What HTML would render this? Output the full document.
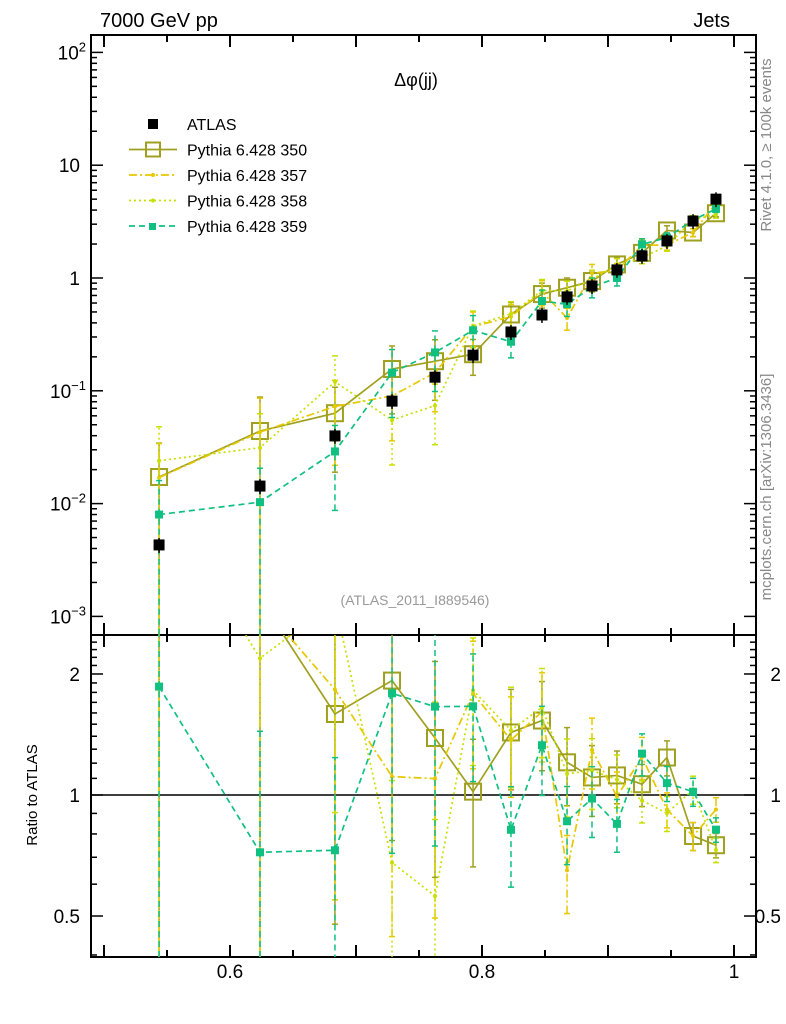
<!DOCTYPE html>
<html><head><meta charset="utf-8"><style>
html,body{margin:0;background:#fff;overflow:hidden;width:786px;height:1024px;}
svg{display:block;font-family:"Liberation Sans",sans-serif;}
</style></head><body>
<svg id="c" width="786" height="1024"></svg>
<script>
const xs=[0.5437,0.6238,0.6833,0.7286,0.7627,0.7929,0.823,0.8476,0.8675,0.8873,0.9071,0.927,0.9468,0.9675,0.9857];
const atlas=[0.0043,0.0143,0.0398,0.081,0.132,0.207,0.332,0.47,0.68,0.85,1.18,1.57,2.13,3.2,5.0];
const py350=[0.0172,0.044,0.0633,0.156,0.183,0.211,0.475,0.72,0.82,0.94,1.32,1.67,2.64,2.53,3.75];
const py357=[0.017,0.043,0.0728,0.090,0.145,0.37,0.455,0.757,0.442,1.10,1.17,1.95,1.96,2.53,4.6];
const py358=[0.024,0.0313,0.12,0.055,0.074,0.377,0.481,0.776,0.768,0.978,1.29,1.52,1.92,3.3,3.65];
const py359=[0.0080,0.0103,0.029,0.145,0.219,0.344,0.272,0.625,0.585,0.833,1.0,1.99,2.28,3.26,4.1];
const relErr=[1.0,1.0,0.7,0.6,0.55,0.35,0.28,0.25,0.22,0.2,0.15,0.12,0.1,0.08,0.07];
const xTicks=[0.6,0.8,1];
const mainTicks=[2,1,0,-1,-2,-3];
const ratioTicks=[2,1,0.5];

const NS="http://www.w3.org/2000/svg";
const svg=document.getElementById('c');
function el(t,a,p){const e=document.createElementNS(NS,t);for(const k in a)e.setAttribute(k,a[k]);(p||svg).appendChild(e);return e;}
const L=91,R=756,T=35,M=635,B=957;
const X=v=>104+(v-0.5)*1260;
const Y=v=>278-Math.log10(v)*112.8;
const YR=v=>795-Math.log10(v)*402;

const defs=el('defs',{});
const c1=el('clipPath',{id:'cm'},defs);el('rect',{x:L,y:T,width:R-L,height:M-T},c1);
const c2=el('clipPath',{id:'cr'},defs);el('rect',{x:L,y:M,width:R-L,height:B-M},c2);

let f=el('rect',{x:L,y:T,width:R-L,height:M-T,fill:'none',stroke:'#000','stroke-width':2});

f=el('rect',{x:L,y:M,width:R-L,height:B-M,fill:'none',stroke:'#000','stroke-width':2});


for(let v=0.5;v<=1.0001;v+=0.05){
  const x=X(v);const maj=Math.abs(v*10-Math.round(v*10))<1e-6;const l=maj?12:7;
  [T,M].forEach(y0=>{el('line',{x1:x,y1:y0,x2:x,y2:y0+l,stroke:'#000','stroke-width':2});});
  [M,B].forEach(y0=>{el('line',{x1:x,y1:y0,x2:x,y2:y0-l,stroke:'#000','stroke-width':2});});
}
xTicks.forEach(v=>{const t=el('text',{x:X(v),y:978,'text-anchor':'middle','font-size':19});t.textContent=String(v);
});

for(let d=-3;d<=2;d++){
  for(let m=1;m<10;m++){const v=m*Math.pow(10,d);const y=Y(v);if(y<T||y>M)continue;const l=m==1?12:6;
    el('line',{x1:L,y1:y,x2:L+l,y2:y,stroke:'#000','stroke-width':1.5});el('line',{x1:R,y1:y,x2:R-l,y2:y,stroke:'#000','stroke-width':1.5});}
}
mainTicks.forEach(d=>{const y=Y(Math.pow(10,d));const t=el('text',{x:80,y:y+7,'text-anchor':'end','font-size':19});
 if(d==1)t.textContent='10';else if(d==0)t.textContent='1';else{t.textContent='10';const s=el('tspan',{dy:-8,'font-size':13},t);s.textContent=d==2?'2':'\u2212'+(-d);}
 if(d!=1&&d!=0)t.setAttribute('x',86);
 });

[0.4,0.5,0.6,0.7,0.8,0.9,1,1.1,1.2,1.3,1.4,1.5,1.6,1.7,1.8,1.9,2,2.1,2.2,2.3,2.4].forEach(v=>{const y=YR(v);const maj=(v==0.5||v==1||v==2);const l=maj?12:6;
 el('line',{x1:L,y1:y,x2:L+l,y2:y,stroke:'#000','stroke-width':1.5});el('line',{x1:R,y1:y,x2:R-l,y2:y,stroke:'#000','stroke-width':1.5});});
ratioTicks.forEach(v=>{[[80,'end'],[781,'end']].forEach(([x,a])=>{const t=el('text',{x:x,y:YR(v)+7,'text-anchor':a,'font-size':19});t.textContent=String(v);
 });});
el('line',{x1:L,y1:YR(1),x2:R,y2:YR(1),stroke:'#000','stroke-width':1.5});

const series=[
 {n:'pythia-350',d:py350,c:'#a0a020',dash:'',mk:'open'},
 {n:'pythia-357',d:py357,c:'#e8c800',dash:'8,3,2,3',mk:'dot'},
 {n:'pythia-358',d:py358,c:'#c8e000',dash:'2,3',mk:'dot'},
 {n:'pythia-359',d:py359,c:'#10c080',dash:'6,4',mk:'fill'}];
series.forEach(s=>{
 [['cm',Y,s.d],['cr',YR,s.d.map((v,i)=>v/atlas[i])]].forEach(([cp,fy,vals])=>{
  const g=el('g',{'clip-path':'url(#'+cp+')'});
  
  vals.forEach((v,i)=>{const x=X(xs[i]);const lo=Math.max(v*(1-relErr[i]),1e-6),hi=v*(1+relErr[i]);
    el('line',{x1:x,y1:fy(lo),x2:x,y2:fy(hi),stroke:s.c,'stroke-width':1.5,'stroke-dasharray':s.dash},g);
    el('line',{x1:x-3,y1:fy(hi),x2:x+3,y2:fy(hi),stroke:s.c,'stroke-width':1.5},g);
    el('line',{x1:x-3,y1:fy(lo),x2:x+3,y2:fy(lo),stroke:s.c,'stroke-width':1.5},g);});
  el('polyline',{points:vals.map((v,i)=>X(xs[i])+','+fy(v)).join(' '),fill:'none',stroke:s.c,'stroke-width':1.7,'stroke-dasharray':s.dash},g);
  vals.forEach((v,i)=>{const x=X(xs[i]),y=fy(v);let m;
   if(s.mk=='open')m=el('rect',{x:x-8,y:y-8,width:16,height:16,fill:'none',stroke:s.c,'stroke-width':2},g);
   else if(s.mk=='fill')m=el('rect',{x:x-4,y:y-4,width:8,height:8,fill:s.c},g);
   else m=el('circle',{cx:x,cy:y,r:2,fill:s.c},g);
   });
 });
});
const ga=el('g',{'clip-path':'url(#cm)'});
atlas.forEach((v,i)=>{const x=X(xs[i]),y=Y(v);el('line',{x1:x,y1:Y(v*0.85),x2:x,y2:Y(v*1.15),stroke:'#000','stroke-width':1.5},ga);
 const m=el('rect',{x:x-5.5,y:y-5.5,width:11,height:11,fill:'#000'},ga);});

const lg=el('g',{});
const items=[['ATLAS','#000','','atlas'],['Pythia 6.428 350','#a0a020','','open'],['Pythia 6.428 357','#e8c800','8,3,2,3','dot'],['Pythia 6.428 358','#c8e000','2,3','dot'],['Pythia 6.428 359','#10c080','6,4','fill']];
items.forEach((it,i)=>{const y=124+i*25.5;const g=el('g',{},lg);
 if(it[3]=='atlas')el('rect',{x:148,y:y-5,width:10,height:10,fill:'#000'},g);
 else{el('line',{x1:129,y1:y,x2:177,y2:y,stroke:it[1],'stroke-width':1.7,'stroke-dasharray':it[2]},g);
  if(it[3]=='open')el('rect',{x:146,y:y-7,width:14,height:14,fill:'none',stroke:it[1],'stroke-width':2},g);
  else if(it[3]=='fill')el('rect',{x:149,y:y-3,width:7,height:7,fill:it[1]},g);
  else el('circle',{cx:153,cy:y,r:2,fill:it[1]},g);}
 const t=el('text',{x:187,y:y+6,'font-size':16},g);t.textContent=it[0];});

function txt(s,a,name){const t=el('text',a);t.textContent=s;return t;}
txt('7000 GeV pp',{x:100,y:27,'font-size':20},'energy-label');
txt('Jets',{x:730,y:27,'font-size':20,'text-anchor':'end'},'process-label');
txt('\u0394\u03c6(jj)',{x:416,y:86,'font-size':18,'text-anchor':'middle'},'plot-title');
txt('(ATLAS_2011_I889546)',{x:415,y:605,'font-size':14,'text-anchor':'middle',fill:'#999'},'analysis-id');
txt('Ratio to ATLAS',{x:0,y:0,'font-size':15,'text-anchor':'middle',transform:'translate(37,795) rotate(-90)'},'ratio-axis-title');
txt('Rivet 4.1.0, \u2265 100k events',{x:0,y:0,'font-size':15,'text-anchor':'middle',fill:'#888',transform:'translate(771,145) rotate(-90)'},'rivet-label');
txt('mcplots.cern.ch [arXiv:1306.3436]',{x:0,y:0,'font-size':15,'text-anchor':'middle',fill:'#888',transform:'translate(771,487) rotate(-90)'},'mcplots-label');
</script>
</body></html>
